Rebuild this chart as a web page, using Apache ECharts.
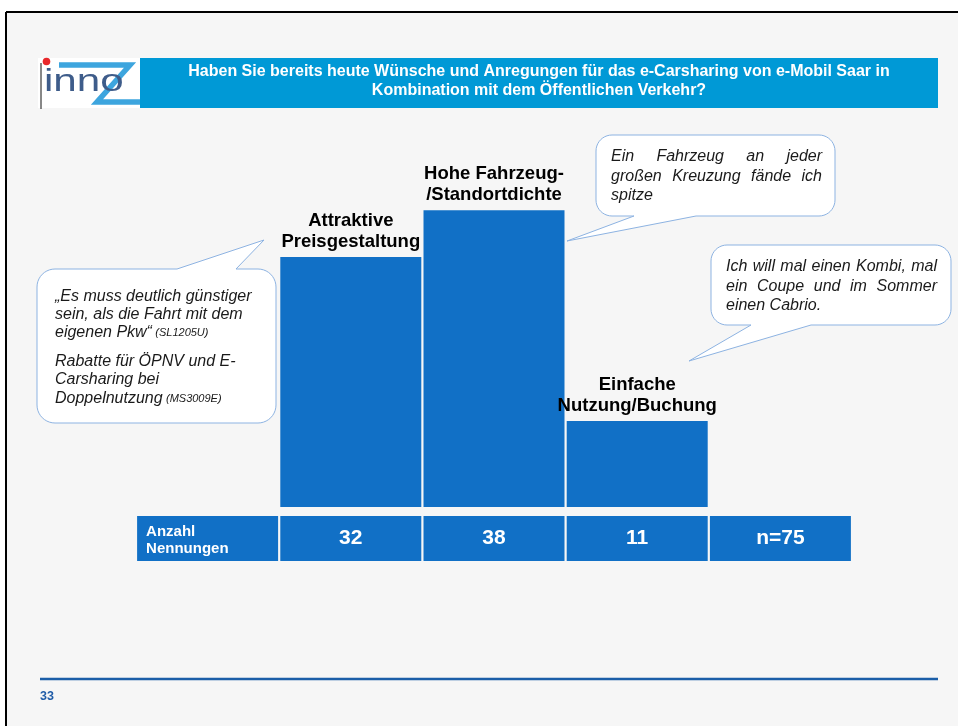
<!DOCTYPE html>
<html>
<head>
<meta charset="utf-8">
<script src="https://cdn.jsdelivr.net/npm/echarts@6/dist/echarts.min.js"></script>
<style>
  html, body { margin: 0; padding: 0; background: #ffffff; }
  #chart { width: 958px; height: 726px; }
</style>
</head>
<body>
<div id="chart"></div>
<script>
// Survey answers and their number of mentions
const categories = ['Attraktive\nPreisgestaltung', 'Hohe Fahrzeug-\n/Standortdichte', 'Einfache\nNutzung/Buchung'];
const mentions = [32, 38, 11];
const sampleSize = 75;
const rowHeader = ['Anzahl', 'Nennungen'];

const titleLines = [
  'Haben Sie bereits heute Wünsche und Anregungen für das e-Carsharing von e-Mobil Saar in',
  'Kombination mit dem Öffentlichen Verkehr?'
];
const pageNumber = '33';

// Quotes shown in the speech bubbles
const quotesPrice = [
  { text: '„Es muss deutlich günstiger' },
  { text: 'sein, als die Fahrt mit dem' },
  { text: 'eigenen Pkw“', code: '(SL1205U)' },
  { text: 'Rabatte für ÖPNV und E-' },
  { text: 'Carsharing bei' },
  { text: 'Doppelnutzung', code: '(MS3009E)' }
];
const quotesDensity = ['Ein Fahrzeug an jeder', 'großen Kreuzung fände ich', 'spitze'];
const quotesUsage = ['Ich will mal einen Kombi, mal', 'ein Coupe und im Sommer', 'einen Cabrio.'];

const FONT = '"Liberation Sans", Arial, sans-serif';
const BAR_BLUE = '#1170C6';
const BUBBLE_LINE = '#8DB3E2';
const QUOTE_FONT = `italic 16px ${FONT}`;

// --- helpers -------------------------------------------------------------
const measureCtx = document.createElement('canvas').getContext('2d');
function textWidth(str, font) { measureCtx.font = font; return measureCtx.measureText(str).width; }

// Quarter circle points for a rounded corner
function arcPoints(cx, cy, r, a0, a1) {
  const pts = [];
  const n = 10;
  for (let i = 0; i <= n; i++) {
    const a = a0 + (a1 - a0) * i / n;
    pts.push([cx + r * Math.cos(a), cy + r * Math.sin(a)]);
  }
  return pts;
}

// Rounded box outline with a pointed tail; tail = {side, a, b, tip:[x,y]}
function bubblePoints(x, y, w, h, r, tail) {
  const x2 = x + w, y2 = y + h, P = Math.PI;
  let pts = [];
  pts = pts.concat(arcPoints(x + r, y + r, r, P, 1.5 * P));
  if (tail.side === 'top') pts.push([tail.a, y], tail.tip, [tail.b, y]);
  pts = pts.concat(arcPoints(x2 - r, y + r, r, 1.5 * P, 2 * P));
  pts = pts.concat(arcPoints(x2 - r, y2 - r, r, 0, 0.5 * P));
  if (tail.side === 'bottom') pts.push([tail.b, y2], tail.tip, [tail.a, y2]);
  pts = pts.concat(arcPoints(x + r, y2 - r, r, 0.5 * P, P));
  return pts;
}

function bubble(x, y, w, h, r, tail) {
  return {
    type: 'polygon', z: 5,
    shape: { points: bubblePoints(x, y, w, h, r, tail) },
    style: { fill: '#ffffff', stroke: BUBBLE_LINE, lineWidth: 1 }
  };
}

// Justified italic lines (last line left aligned)
function justifiedLines(lines, x0, x1, ys) {
  const out = [];
  lines.forEach((line, li) => {
    const words = line.split(' ');
    const last = li === lines.length - 1;
    if (last || words.length < 2) {
      out.push({ type: 'text', z: 6, style: { text: line, x: x0, y: ys[li], fill: '#1a1a1a', font: QUOTE_FONT, verticalAlign: 'middle' } });
      return;
    }
    const widths = words.map(wd => textWidth(wd, QUOTE_FONT));
    const gap = (x1 - x0 - widths.reduce((a, b) => a + b, 0)) / (words.length - 1);
    let cx = x0;
    words.forEach((wd, i) => {
      out.push({ type: 'text', z: 6, style: { text: wd, x: cx, y: ys[li], fill: '#1a1a1a', font: QUOTE_FONT, verticalAlign: 'middle' } });
      cx += widths[i] + gap;
    });
  });
  return out;
}

// --- decorative page elements --------------------------------------------
const graphics = [];

graphics.push({ type: 'rect', z: -100, shape: { x: 6, y: 12, width: 952, height: 714 }, style: { fill: '#f6f6f6' } });
graphics.push({ type: 'line', z: 1, shape: { x1: 6, y1: 12, x2: 958, y2: 12 }, style: { stroke: '#000', lineWidth: 2 } });
graphics.push({ type: 'line', z: 1, shape: { x1: 6, y1: 12, x2: 6, y2: 726 }, style: { stroke: '#000', lineWidth: 2 } });

// logo
graphics.push({ type: 'rect', z: 1, shape: { x: 38, y: 58, width: 102, height: 50 }, style: { fill: '#ffffff' } });
graphics.push({ type: 'line', z: 2, shape: { x1: 41, y1: 63, x2: 41, y2: 109 }, style: { stroke: '#111', lineWidth: 1 } });
graphics.push({ type: 'polyline', z: 2, shape: { points: [[59, 65], [130, 65], [97, 102], [140, 102]] },
  style: { stroke: '#3DA5DE', lineWidth: 5.5, fill: null, lineJoin: 'miter' } });
graphics.push({ type: 'text', z: 3, x: 44, y: 0, scaleX: 1.36, originX: 0,
  style: { text: 'inno', x: 0, y: 82, fill: '#3E5C8A', font: `31px ${FONT}`, verticalAlign: 'middle' } });
graphics.push({ type: 'circle', z: 4, shape: { cx: 46.5, cy: 61.5, r: 3.8 }, style: { fill: '#E8272A' } });

// title banner
graphics.push({ type: 'rect', z: 1, shape: { x: 140, y: 58, width: 798, height: 50 }, style: { fill: '#0099D6' } });
graphics.push({ type: 'text', z: 2, style: {
  text: titleLines.join('\n'), x: 539, y: 81, align: 'center', verticalAlign: 'middle',
  fill: '#ffffff', font: `bold 16px ${FONT}`, lineHeight: 19 } });

// speech bubbles
graphics.push(bubble(37, 269, 239, 154, 18, { side: 'top', a: 177, b: 236, tip: [264, 240] }));
graphics.push(bubble(596, 135, 239, 81, 16, { side: 'bottom', a: 634, b: 696, tip: [567, 241] }));
graphics.push(bubble(711, 245, 240, 80, 16, { side: 'bottom', a: 751, b: 811, tip: [689, 361] }));

const priceYs = [297, 315, 333, 362, 380, 399];
quotesPrice.forEach((q, i) => {
  graphics.push({ type: 'text', z: 6, style: {
    text: q.code ? `{t|${q.text}} {c|${q.code}}` : `{t|${q.text}}`,
    x: 55, y: priceYs[i], verticalAlign: 'middle',
    rich: {
      t: { fontFamily: FONT, fontStyle: 'italic', fontSize: 16, fill: '#1a1a1a' },
      c: { fontFamily: FONT, fontStyle: 'italic', fontSize: 11, fill: '#1a1a1a' }
    } } });
});
graphics.push(...justifiedLines(quotesDensity, 611, 822, [157, 176.5, 196]));
graphics.push(...justifiedLines(quotesUsage, 726, 937, [267, 286.5, 306]));

// footer
graphics.push({ type: 'line', z: 1, shape: { x1: 40, y1: 679, x2: 938, y2: 679 }, style: { stroke: '#1B5EA8', lineWidth: 2.5 } });
graphics.push({ type: 'text', z: 1, style: { text: pageNumber, x: 40, y: 696.5, verticalAlign: 'middle', fill: '#1F5CA8', font: `bold 12.5px ${FONT}` } });

// --- chart ---------------------------------------------------------------
// Five columns: header cell, three answers, sample size cell
const axisCategories = [''].concat(categories, ['']);
const seriesData = ['-'].concat(mentions, ['-']);

const chart = echarts.init(document.getElementById('chart'), null, { renderer: 'canvas' });
chart.setOption({
  backgroundColor: '#ffffff',
  animation: false,
  grid: { left: 136, right: 106, top: 194.5, bottom: 219, containLabel: false },
  xAxis: {
    type: 'category',
    data: axisCategories,
    axisLine: { show: false },
    axisTick: { show: false },
    splitLine: { show: false },
    axisLabel: {
      interval: 0,
      margin: 9,
      width: 141,
      backgroundColor: BAR_BLUE,
      color: '#ffffff',
      fontFamily: FONT,
      fontWeight: 'bold',
      formatter: function (value, index) {
        if (index === 0) {
          return `{s| }\n{g| }{h|${rowHeader[0]}}\n{g| }{h|${rowHeader[1]}}\n{b| }`;
        }
        if (index <= mentions.length) return `{v|${mentions[index - 1]}}`;
        return `{v|n=${sampleSize}}`;
      },
      rich: {
        s: { fontSize: 4, lineHeight: 7.5 },
        b: { fontSize: 3, lineHeight: 3.5 },
        g: { width: 9, fontSize: 15, lineHeight: 17, align: 'left' },
        h: { fontSize: 15, lineHeight: 17, align: 'left', color: '#ffffff', fontWeight: 'bold', fontFamily: FONT },
        v: { fontSize: 21, lineHeight: 45, align: 'center', color: '#ffffff', fontWeight: 'bold', fontFamily: FONT }
      }
    }
  },
  yAxis: {
    type: 'value', min: 0, max: 40,
    show: false,
    splitLine: { show: false }
  },
  series: [{
    type: 'bar',
    data: seriesData,
    barWidth: 141,
    itemStyle: { color: BAR_BLUE },
    label: {
      show: true,
      position: 'top',
      distance: 5,
      color: '#000000',
      fontFamily: FONT,
      fontWeight: 'bold',
      fontSize: 18.5,
      lineHeight: 21,
      align: 'center',
      formatter: p => categories[p.dataIndex - 1]
    }
  }],
  graphic: { elements: graphics }
});
</script>
</body>
</html>
